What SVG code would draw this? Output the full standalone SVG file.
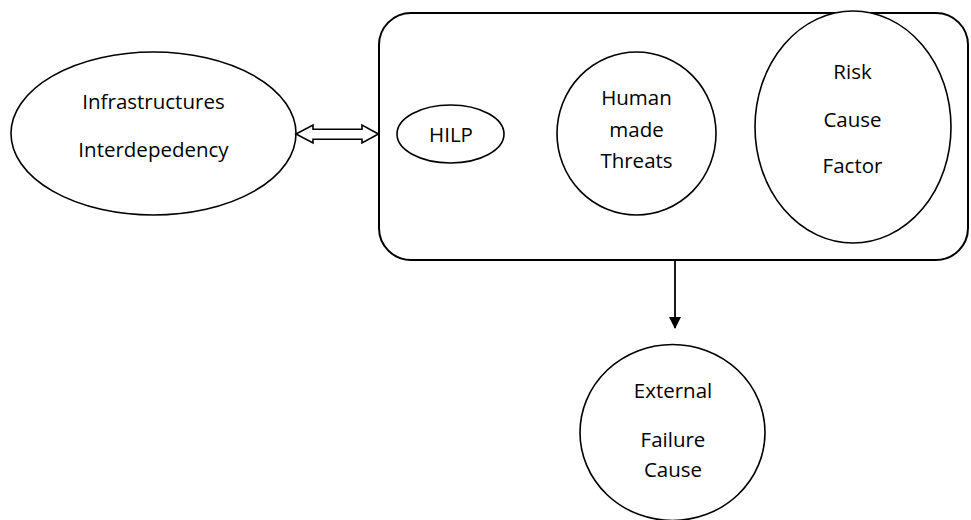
<svg xmlns="http://www.w3.org/2000/svg" width="971" height="520" viewBox="0 0 971 520">
  <defs>
    <style>
      .shape { fill: #ffffff; stroke: #000000; stroke-width: 1.6; }
      .frame { fill: #ffffff; stroke: #000000; stroke-width: 2; }
      .label { font-family: "Open Sans", "Noto Sans", "Liberation Sans", sans-serif; font-size: 20.5px; fill: #000000; text-anchor: middle; }
      .wire { fill: none; stroke: #000000; stroke-width: 1.8; }
    </style>
    <marker id="arrowhead" viewBox="0 0 12 12" refX="11" refY="6" markerWidth="12" markerHeight="12" markerUnits="userSpaceOnUse" orient="auto">
      <path d="M0,0 L12,6 L0,12 Z" fill="#000000"/>
    </marker>
  </defs>

  <rect width="971" height="520" fill="#ffffff"/>

  <!-- container holding the three risk sources -->
  <g id="risk-container">
    <rect class="frame" x="379" y="13" width="589" height="247" rx="32" ry="32"/>
  </g>

  <g id="infrastructures-interdependency">
    <ellipse class="shape" cx="153.5" cy="133.5" rx="142.5" ry="81.5"/>
    <text class="label" x="153.5" y="109">Infrastructures</text>
    <text class="label" x="153.5" y="157">Interdepedency</text>
  </g>

  <g id="hilp">
    <ellipse class="shape" cx="450.5" cy="134" rx="53.5" ry="29"/>
    <text class="label" x="451" y="142">HILP</text>
  </g>

  <g id="human-made-threats">
    <ellipse class="shape" cx="636.5" cy="133.5" rx="79.5" ry="81.5"/>
    <text class="label" x="636.5" y="105">Human</text>
    <text class="label" x="636.5" y="136.5">made</text>
    <text class="label" x="636.5" y="167.5">Threats</text>
  </g>

  <g id="risk-cause-factor">
    <ellipse class="shape" cx="853" cy="127" rx="98" ry="116"/>
    <text class="label" x="852.5" y="79">Risk</text>
    <text class="label" x="852.5" y="126.5">Cause</text>
    <text class="label" x="852.5" y="173">Factor</text>
  </g>

  <g id="external-failure-cause">
    <ellipse class="shape" cx="672.5" cy="432.5" rx="92.5" ry="88"/>
    <text class="label" x="673" y="398">External</text>
    <text class="label" x="673" y="446.5">Failure</text>
    <text class="label" x="673" y="476.5">Cause</text>
  </g>

  <g id="connectors">
    <!-- two-way hollow arrow between the interdependency node and the container -->
    <polygon class="shape" stroke-width="1.5" points="296,134 313,125 313,129.3 362,129.3 362,125 378.5,134 362,143 362,139.3 313,139.3 313,143"/>
    <!-- container down to the external failure cause -->
    <line class="wire" x1="675" y1="260" x2="675" y2="328" marker-end="url(#arrowhead)"/>
  </g>
</svg>
